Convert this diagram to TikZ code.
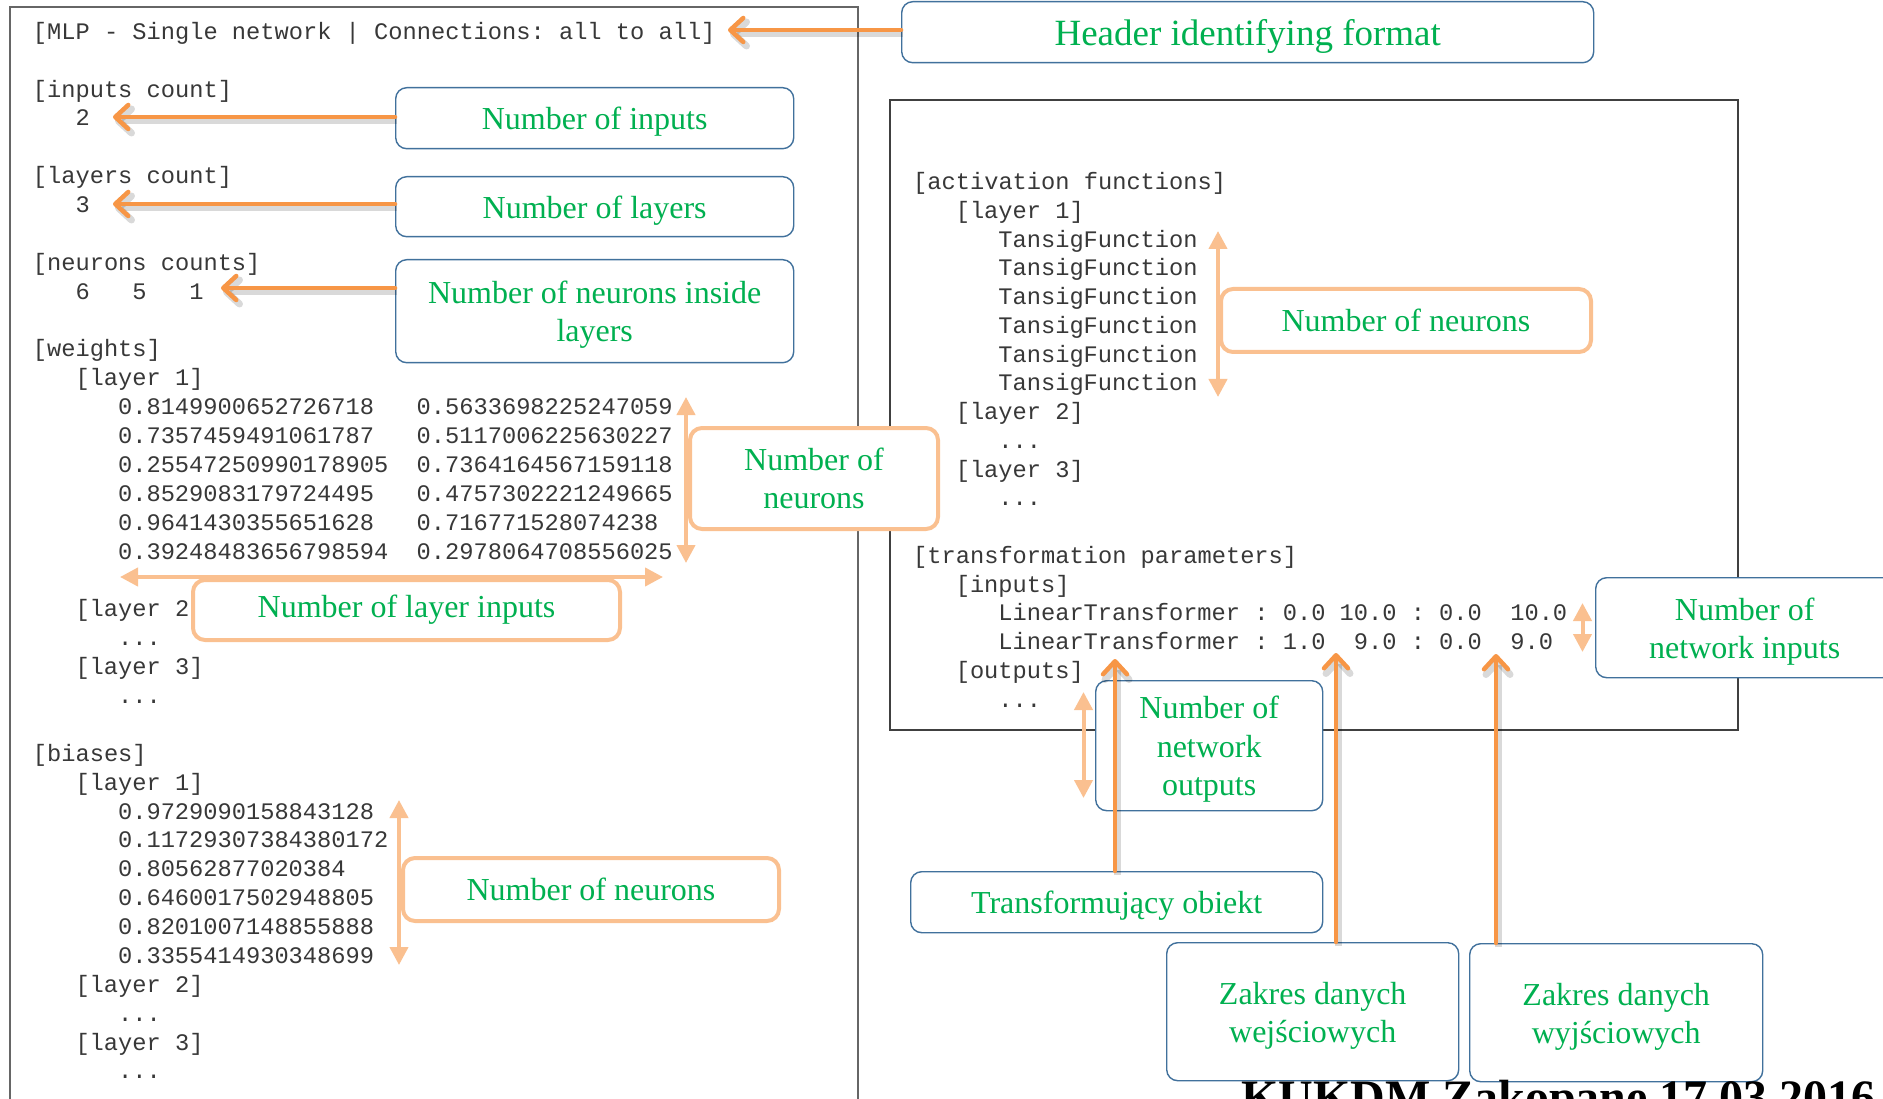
\documentclass[tikz,border=0pt]{standalone}
\usepackage{fontspec}
\setmainfont{Liberation Serif}
\setmonofont{Liberation Mono}
\usetikzlibrary{arrows.meta}
\definecolor{dorange}{HTML}{F79646}
\definecolor{lorange}{HTML}{FAC090}
\definecolor{tgreen}{HTML}{00B050}
\definecolor{bblue}{HTML}{41719C}
\newcommand\codefnt{\ttfamily\fontsize{23.7}{28.9}\selectfont}
\newcommand\calfnt{\rmfamily\fontsize{32}{38.4}\selectfont}
\newcommand\hdrfnt{\rmfamily\fontsize{37}{44}\selectfont}
\begin{document}
\begin{tikzpicture}[x=1pt,y=-1pt,
 code/.style={anchor=base west, inner sep=0pt, font=\codefnt, text=black!78},
 cbox/.style={fill=white, text=tgreen, font=\calfnt, align=center, inner sep=0pt, anchor=north west},
 bbox/.style={cbox, draw=bblue, line width=1.4pt, rounded corners=11pt, text height=30pt},
 bboxII/.style={bbox, text height=68.3pt},
 bboxIII/.style={bbox, text height=106.7pt},
 obox/.style={cbox, draw=lorange, line width=4pt, rounded corners=12pt},
 darr/.style={draw=dorange, line width=4.5pt, line cap=round, -{Straight Barb[length=13pt,width=24pt,round]},
   preaction={draw=black, opacity=0.15, line width=7pt, transform canvas={shift={(2pt,-4pt)}}}},
 larr/.style={draw=lorange, line width=4pt, {Triangle[length=18pt,width=18pt]}-{Triangle[length=18pt,width=18pt]}},
 frm/.style={draw=black!60, line width=1.5pt}
]
\useasboundingbox (0,0) rectangle (1883,1099);
\clip (0,0) rectangle (1883,1099);
\fill[white] (0,0) rectangle (1883,1099);

% frames
\draw[frm] (10,7) rectangle (858,1130);
\draw[frm, draw=black!75] (890,100) rectangle (1738,730);

% left code
\node[code] (L0) at (32.7,39.3) {[MLP - Single network | Connections: all to all]};
\node[code] (L2) at (32.7,97.06) {[inputs count]};
\node[code] (L3) at (75.3,125.94) {2};
\node[code] (L5) at (32.7,183.7) {[layers count]};
\node[code] (L6) at (75.3,212.58) {3};
\node[code] (L8) at (32.7,270.34) {[neurons counts]};
\node[code] (L9) at (75.3,299.22) {6\ \ \ 5\ \ \ 1};
\node[code] (L11) at (32.7,356.98) {[weights]};
\node[code] (L12) at (75.3,385.86) {[layer 1]};
\node[code] (L13) at (117.9,414.74) {0.8149900652726718\ \ \ 0.5633698225247059};
\node[code] (L14) at (117.9,443.62) {0.7357459491061787\ \ \ 0.5117006225630227};
\node[code] (L15) at (117.9,472.5) {0.25547250990178905\ \ 0.7364164567159118};
\node[code] (L16) at (117.9,501.38) {0.8529083179724495\ \ \ 0.4757302221249665};
\node[code] (L17) at (117.9,530.26) {0.9641430355651628\ \ \ 0.716771528074238};
\node[code] (L18) at (117.9,559.14) {0.39248483656798594\ \ 0.2978064708556025};
\node[code] (L20) at (75.3,616.9) {[layer 2]};
\node[code] (L21) at (117.9,645.78) {...};
\node[code] (L22) at (75.3,674.66) {[layer 3]};
\node[code] (L23) at (117.9,703.54) {...};
\node[code] (L25) at (32.7,761.3) {[biases]};
\node[code] (L26) at (75.3,790.18) {[layer 1]};
\node[code] (L27) at (117.9,819.06) {0.9729090158843128};
\node[code] (L28) at (117.9,847.94) {0.11729307384380172};
\node[code] (L29) at (117.9,876.82) {0.80562877020384};
\node[code] (L30) at (117.9,905.7) {0.6460017502948805};
\node[code] (L31) at (117.9,934.58) {0.8201007148855888};
\node[code] (L32) at (117.9,963.46) {0.3355414930348699};
\node[code] (L33) at (75.3,992.34) {[layer 2]};
\node[code] (L34) at (117.9,1021.22) {...};
\node[code] (L35) at (75.3,1050.1) {[layer 3]};
\node[code] (L36) at (117.9,1078.98) {...};

% right code
\node[code] (R0) at (913,189.7) {[activation functions]};
\node[code] (R1) at (955.6,218.45) {[layer 1]};
\node[code] (R2) at (998.2,247.2) {TansigFunction};
\node[code] (R3) at (998.2,275.95) {TansigFunction};
\node[code] (R4) at (998.2,304.7) {TansigFunction};
\node[code] (R5) at (998.2,333.45) {TansigFunction};
\node[code] (R6) at (998.2,362.2) {TansigFunction};
\node[code] (R7) at (998.2,390.95) {TansigFunction};
\node[code] (R8) at (955.6,419.7) {[layer 2]};
\node[code] (R9) at (998.2,448.45) {...};
\node[code] (R10) at (955.6,477.2) {[layer 3]};
\node[code] (R11) at (998.2,505.95) {...};
\node[code] (R13) at (913,563.45) {[transformation parameters]};
\node[code] (R14) at (955.6,592.2) {[inputs]};
\node[code] (R15) at (998.2,620.95) {LinearTransformer : 0.0 10.0 : 0.0\ \ 10.0};
\node[code] (R16) at (998.2,649.7) {LinearTransformer : 1.0\ \ 9.0 : 0.0\ \ 9.0};
\node[code] (R17) at (955.6,678.45) {[outputs]};
\node[code] (R18) at (998.2,707.2) {...};

% callout boxes
\node[bbox, font=\hdrfnt, text height=35pt, minimum width=692, minimum height=61] (hdr) at (901,1) {Header identifying format};
\node[bbox, minimum width=398, minimum height=61] (nin) at (395,87) {Number of inputs};
\node[bbox, minimum width=398, minimum height=60] (nla) at (395,176) {Number of layers};
\node[bboxII, minimum width=398, minimum height=103] (nni) at (395,259) {Number of neurons inside\\layers};
\node[obox, minimum width=248, minimum height=101] (wnn) at (688,426) {Number of\\neurons};
\node[obox, minimum width=427, minimum height=60] (nli) at (191,578) {Number of layer inputs};
\node[obox, minimum width=376, minimum height=63] (bnn) at (401,856) {Number of neurons};
\node[obox, minimum width=370, minimum height=63] (ann) at (1219,287) {Number of neurons};
\node[bboxII, minimum width=298, minimum height=100] (nnin) at (1595,577) {Number of\\network inputs};
\node[bboxIII, minimum width=227, minimum height=130] (nnout) at (1095,680) {Number of\\network\\outputs};
\node[bbox, minimum width=412, minimum height=61] (tobj) at (910,871) {Transformujący obiekt};
\node[bboxII, minimum width=292, minimum height=138] (zwe) at (1166,942) {Zakres danych\\wejściowych};
\node[bboxII, minimum width=293, minimum height=138] (zwy) at (1469,943) {Zakres danych\\wyjściowych};

% light double arrows
\coordinate (w1) at (686,397); \coordinate (w2) at (686,563);
\coordinate (h1) at (120,577); \coordinate (h2) at (663,577);
\coordinate (b1) at (399,800); \coordinate (b2) at (399,965);
\coordinate (a1) at (1218,231); \coordinate (a2) at (1218,397);
\coordinate (i1) at (1582.5,603); \coordinate (i2) at (1582.5,652);
\coordinate (o1) at (1083.5,692); \coordinate (o2) at (1083.5,798);
\draw[larr] (w1) -- (w2);
\draw[larr] (h1) -- (h2);
\draw[larr] (b1) -- (b2);
\draw[larr] (a1) -- (a2);
\draw[larr] (i1) -- (i2);
\draw[larr] (o1) -- (o2);

% dark arrows
\coordinate (tH) at (728,30);
\coordinate (tI) at (113,117);
\coordinate (tL) at (113,204);
\coordinate (tN) at (221,288);
\coordinate (tT) at (1115,659);
\coordinate (tW) at (1336,653);
\coordinate (tY) at (1496,654);
\draw[darr] (hdr.west |- tH) -- (tH);
\draw[darr] (nin.west |- tI) -- (tI);
\draw[darr] (nla.west |- tL) -- (tL);
\draw[darr] (nni.west |- tN) -- (tN);
\draw[darr] (tobj.north -| tT) -- (tT);
\draw[darr] (zwe.north -| tW) -- (tW);
\draw[darr] (zwy.north -| tY) -- (tY);

% footer (cut by the lower edge, as in the reference)
\node[anchor=base west, inner sep=0pt, font=\bfseries\fontsize{48}{55}\selectfont] (kukdm) at (1241,1113) {KUKDM Zakopane 17.03.2016};
\end{tikzpicture}
\end{document}
